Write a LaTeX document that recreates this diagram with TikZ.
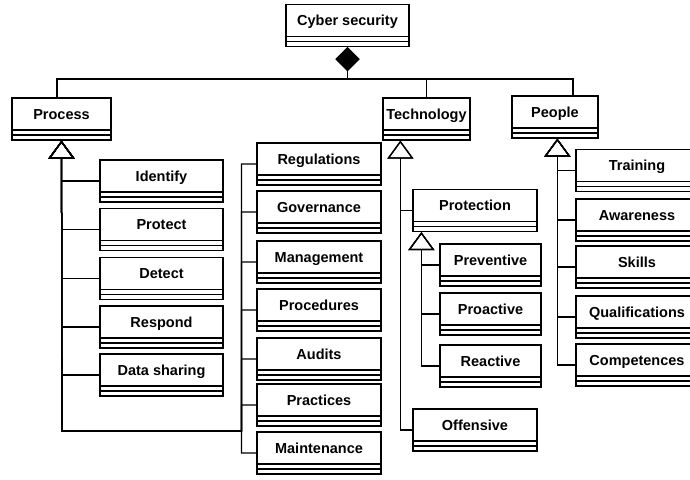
\documentclass[tikz,border=0pt]{standalone}
\usepackage{fontspec}
\setmainfont{Liberation Sans}
\usetikzlibrary{arrows.meta}

\begin{document}
\begin{tikzpicture}[x=1pt,y=-1pt,line width=1.25pt,
  font=\bfseries\fontsize{14.5}{17}\selectfont,
  cls/.style={draw,minimum width=#1,minimum height=42pt,inner sep=0pt,
    text height=8pt,text depth=8pt,
    path picture={
      \draw ([yshift=10pt]path picture bounding box.south west) -- ([yshift=10pt]path picture bounding box.south east);
      \draw ([yshift=5pt]path picture bounding box.south west) -- ([yshift=5pt]path picture bounding box.south east);}},
  gen/.style={-{Triangle[open,length=18pt,width=26pt]}},
  comp/.style={-{Diamond[length=24pt,width=24pt]}}]
\useasboundingbox (0,0) rectangle (690,479);

\node[cls=123pt] (cyber) at (347.5,25.5) {Cyber security};
\node[cls=99pt] (process) at (61.5,119) {Process};
\node[cls=87pt] (technology) at (426.5,119) {Technology};
\node[cls=86pt] (people) at (555,117) {People};

\node[cls=123pt] (identify) at (161.5,181) {Identify};
\node[cls=123pt] (protect) at (161.5,229.5) {Protect};
\node[cls=123pt] (detect) at (161.5,278.5) {Detect};
\node[cls=123pt] (respond) at (161.5,327) {Respond};
\node[cls=123pt] (datashare) at (161.5,375) {Data sharing};

\node[cls=124pt] (regulations) at (319,164) {Regulations};
\node[cls=124pt] (governance) at (319,212) {Governance};
\node[cls=124pt] (management) at (319,262) {Management};
\node[cls=124pt] (procedures) at (319,310) {Procedures};
\node[cls=124pt] (audits) at (319,359) {Audits};
\node[cls=124pt] (practices) at (319,405) {Practices};
\node[cls=124pt] (maintenance) at (319,453) {Maintenance};

\node[cls=124pt] (protection) at (475,210.5) {Protection};
\node[cls=101pt] (preventive) at (490.5,265) {Preventive};
\node[cls=101pt] (proactive) at (490.5,314) {Proactive};
\node[cls=101pt] (reactive) at (490.5,366) {Reactive};
\node[cls=124pt] (offensive) at (475,430) {Offensive};

\node[cls=122pt] (training) at (637,170.5) {Training};
\node[cls=122pt] (awareness) at (637,220) {Awareness};
\node[cls=122pt] (skills) at (637,267) {Skills};
\node[cls=122pt] (qualif) at (637,317) {Qualifications};
\node[cls=122pt] (competences) at (637,365) {Competences};

\coordinate (hub) at (347.5,79);
\coordinate (pbus) at (process.south);
\coordinate (pelbow) at (62,431);
\coordinate (rbus) at (241.5,0);
\coordinate (tbus) at ([xshift=18pt]technology.south west);
\coordinate (prbus) at ([xshift=9pt]protection.south west);
\coordinate (ppbus) at ([xshift=46pt]people.south west);

\draw[comp] ([xshift=-4.5pt]process.north) |- (hub) -- (cyber.south);
\draw[comp] (technology.north) |- (hub) -- (cyber.south);
\draw[comp] ([xshift=18pt]people.north) |- (hub) -- (cyber.south);

\foreach \n in {identify,protect,detect,respond,datashare}
  \draw[gen] (\n.west) -| (pbus);
\foreach \n in {regulations,governance,management,procedures,audits,practices,maintenance}
  \draw[gen] (\n.west) -- (\n.west -| rbus) -- (rbus |- pelbow) -- (pelbow) -- (pbus);
\foreach \n in {protection,offensive}
  \draw[gen] (\n.west) -| (tbus);
\foreach \n in {preventive,proactive,reactive}
  \draw[gen] (\n.west) -| (prbus);
\foreach \n in {training,awareness,skills,qualif,competences}
  \draw[gen] (\n.west) -| (ppbus);
\end{tikzpicture}
\end{document}
